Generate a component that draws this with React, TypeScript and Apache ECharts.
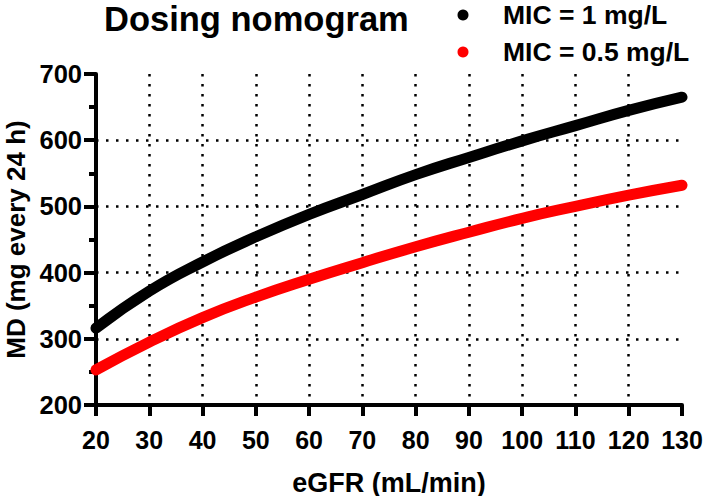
import React, { useEffect, useRef } from "react";
import * as echarts from "echarts";

const eGFR = [20, 30, 40, 50, 60, 70, 80, 90, 100, 110, 120, 130];
const mic1 = [316, 372, 416, 454, 488, 518, 548, 574, 599, 622, 645, 665];
const mic05 = [253, 295, 332, 363, 390, 415, 439, 461, 482, 500, 517, 532];
const seriesNames = ["MIC = 1 mg/L", "MIC = 0.5 mg/L"];
const seriesColors = ["#000000", "#ff0000"];
const titleText = "Dosing nomogram";
const xTitle = "eGFR (mL/min)";
const yTitle = "MD (mg every 24 h)";

const FONT = "'Liberation Sans', Arial, Helvetica, sans-serif";

export default function App() {
  const ref = useRef<HTMLDivElement>(null);
  useEffect(() => {
    if (!ref.current) return;
    const chart = echarts.init(ref.current, null, { renderer: "svg" });
    const pairs = (ys: number[]) => eGFR.map((x, i) => [x, ys[i]]);
    const dotted = { color: "#000", width: 2.5, type: [2.5, 7.5] as number[] };
    const legendGraphics: any[] = [];
    seriesNames.forEach((name, i) => {
      const cy = 15 + i * 37;
      legendGraphics.push({
        type: "circle",
        shape: { cx: 463, cy, r: 5.5 },
        style: { fill: seriesColors[i] },
      });
      legendGraphics.push({
        type: "text",
        x: 503,
        y: cy,
        style: {
          text: name,
          fill: "#000",
          font: `bold 26.5px ${FONT}`,
          textVerticalAlign: "middle",
          verticalAlign: "middle",
        },
      });
    });
    chart.setOption({
      animation: false,
      backgroundColor: "#fff",
      textStyle: { fontFamily: FONT },
      title: {
        text: titleText,
        left: 104,
        top: 1,
        padding: 0,
        textStyle: { fontSize: 34.5, fontWeight: "bold", color: "#000", fontFamily: FONT },
      },
      graphic: legendGraphics,
      grid: { left: 96, right: 21, top: 74, bottom: 91, containLabel: false, outerBoundsMode: "none" },
      xAxis: {
        type: "value",
        min: 20,
        max: 130,
        interval: 10,
        name: xTitle,
        nameLocation: "middle",
        nameGap: 64,
        nameTextStyle: { fontSize: 27, fontWeight: "bold", color: "#000", fontFamily: FONT },
        axisLine: { show: true, onZero: false, lineStyle: { color: "#000", width: 4 } },
        axisTick: { show: true, length: 11, lineStyle: { color: "#000", width: 4 } },
        axisLabel: { fontSize: 25, fontWeight: "bold", color: "#000", margin: 22, fontFamily: FONT },
        splitLine: { show: true, showMinLine: false, showMaxLine: false, lineStyle: dotted },
      },
      yAxis: {
        type: "value",
        min: 200,
        max: 700,
        interval: 100,
        name: yTitle,
        nameLocation: "middle",
        nameGap: 64,
        nameTextStyle: { fontSize: 26, fontWeight: "bold", color: "#000", fontFamily: FONT },
        axisLine: { show: true, onZero: false, lineStyle: { color: "#000", width: 4 } },
        axisTick: { show: true, length: 12, lineStyle: { color: "#000", width: 4 } },
        minorTick: { show: true, splitNumber: 2, length: 7, lineStyle: { color: "#000", width: 4 } },
        axisLabel: { fontSize: 25.5, fontWeight: "bold", color: "#000", margin: 14, fontFamily: FONT },
        splitLine: { show: true, showMinLine: false, showMaxLine: false, lineStyle: dotted },
      },
      series: [
        {
          name: seriesNames[0],
          type: "line",
          data: pairs(mic1),
          smooth: true,
          showSymbol: false,
          clip: false,
          color: seriesColors[0],
          lineStyle: { color: seriesColors[0], width: 11, cap: "round" },
          z: 3,
        },
        {
          name: seriesNames[1],
          type: "line",
          data: pairs(mic05),
          smooth: true,
          showSymbol: false,
          clip: false,
          color: seriesColors[1],
          lineStyle: { color: seriesColors[1], width: 11, cap: "round" },
          z: 3,
        },
      ],
    });
    return () => chart.dispose();
  }, []);
  return <div ref={ref} style={{ width: 703, height: 496, position: "absolute", left: 0, top: 0 }} />;
}
